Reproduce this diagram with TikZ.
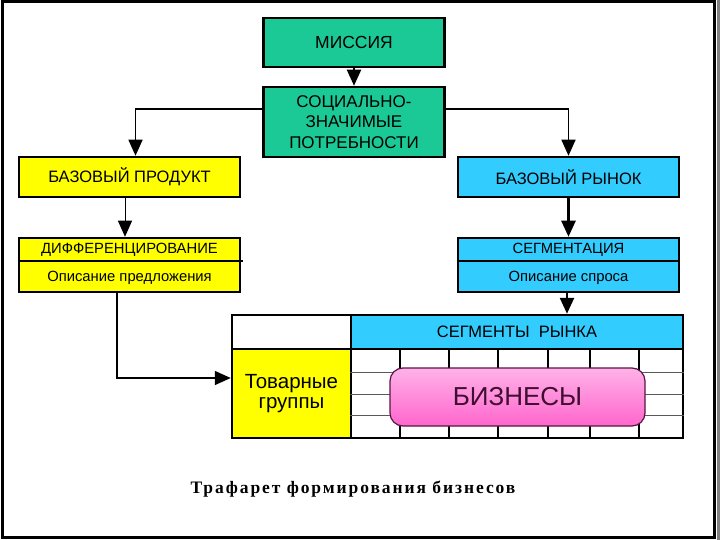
\documentclass[tikz,border=0pt]{standalone}
\usepackage{fontspec}
\setmainfont{Liberation Sans}
\newfontfamily\captionfont[LetterSpace=11]{Liberation Serif}
\usepackage{xcolor}
\usepackage{tikz}
\usetikzlibrary{arrows.meta}

\definecolor{missiongreen}{RGB}{26,201,150}
\definecolor{boxyellow}{RGB}{255,255,0}
\definecolor{boxblue}{RGB}{51,204,255}
\definecolor{bizpinktop}{RGB}{255,178,232}
\definecolor{bizpinkbot}{RGB}{255,102,204}
\definecolor{bizedge}{RGB}{90,20,70}

\begin{document}
\begin{tikzpicture}[x=1pt, y=-1pt,
    every node/.style={inner sep=0pt, font=\fontsize{16.5}{20}\selectfont},
    box/.style={draw, line width=2.5pt, minimum width=221pt, minimum height=40pt},
    greenbox/.style={box, fill=missiongreen, minimum width=181pt},
    small/.style={font=\fontsize{14.8}{17}\selectfont},
    flow/.style={line width=1.5pt, -{Triangle[width=14pt,length=16pt]}}]
  \useasboundingbox (0,0) rectangle (720,540);
  % frame
  \draw[line width=3pt] (2,2) rectangle (714,537);
  \draw[gray, line width=3pt] (718,0) -- (718,540);

  % top
  \node[greenbox, minimum height=49pt, font=\fontsize{17.5}{20}\selectfont] (mission) at (354,42.5) {МИССИЯ};
  \node[greenbox, minimum height=70pt, align=center, font=\fontsize{17}{20.5}\selectfont] (needs) at (354,122) {СОЦИАЛЬНО-\\ЗНАЧИМЫЕ\\ПОТРЕБНОСТИ};
  \node[box, fill=boxyellow] (product) at (129.5,177) {БАЗОВЫЙ ПРОДУКТ};
  \node[box, fill=boxblue] (market) at (568.5,177) {БАЗОВЫЙ РЫНОК};

  % second level
  \node[box, fill=boxyellow, minimum height=54pt] (diff) at (129.5,265) {};
  \node[small] (difftitle) at (129.5,250) {ДИФФЕРЕНЦИРОВАНИЕ};
  \node[small] (diffnote) at (129.5,278) {Описание предложения};
  \draw[line width=1.5pt] (diff.west |- 0,261) -- ([xshift=2pt]diff.east |- 0,261);
  \node[box, fill=boxblue, minimum height=54pt] (segm) at (568.5,265) {};
  \node[small] (segmtitle) at (568.5,250) {СЕГМЕНТАЦИЯ};
  \node[small] (segmnote) at (568.5,278) {Описание спроса};
  \draw[line width=1.5pt] (segm.west |- 0,261) -- (segm.east |- 0,261);

  % table
  \node[draw, line width=2.5pt, fill=white, minimum width=119pt, minimum height=34pt] (corner) at (291.5,332) {};
  \node[draw, line width=2.5pt, fill=boxblue, minimum width=332pt, minimum height=34pt] (header) at (517,332) {СЕГМЕНТЫ\ \ РЫНКА};
  \node[draw, line width=2.5pt, fill=boxyellow, minimum width=119pt, minimum height=89pt, align=center,
    font=\fontsize{20.5}{20}\selectfont] (goods) at (291.5,393.5) {Товарные\\группы};
  \node[draw, line width=2.5pt, minimum width=332pt, minimum height=89pt] (grid) at (517,393.5) {};
  \foreach \gy in {372,394,415}
    \draw[gray!70!black, line width=0.8pt] (grid.west |- 0,\gy) -- (grid.east |- 0,\gy);
  \foreach \gx in {400,449,498,548,590,639}
    \draw[line width=1.6pt] (\gx,349) -- (\gx,438);
  \node[draw=bizedge, line width=1.2pt, rounded corners=13pt, top color=bizpinktop, bottom color=bizpinkbot,
    minimum width=255pt, minimum height=58pt, font=\fontsize{26}{27}\selectfont, text=bizedge!70!black] (biz) at (517.5,397) {БИЗНЕСЫ};

  % connectors
  \draw[flow, line width=2pt] (mission) -- (needs);
  \draw[flow] ([yshift=13pt]needs.west) -| ([xshift=6pt]product.north);
  \draw[flow] ([yshift=13pt]needs.east) -| (market.north);
  \draw[flow, line width=1pt] ([xshift=-4.5pt]product.south) -- ([xshift=-4.5pt]diff.north);
  \draw[flow, line width=2.5pt] (market.south) -- (segm.north);
  \draw[flow, line width=2.5pt] ([xshift=-1.5pt]segm.south) -- (header.north -| 567,0);
  \draw[flow] ([xshift=-12.5pt]diff.south) |- ([yshift=15.5pt]goods.west);

  % caption
  \node[font=\captionfont\bfseries\fontsize{17.5}{20}\selectfont] (caption) at (353,489) {Трафарет формирования бизнесов};
\end{tikzpicture}
\end{document}
